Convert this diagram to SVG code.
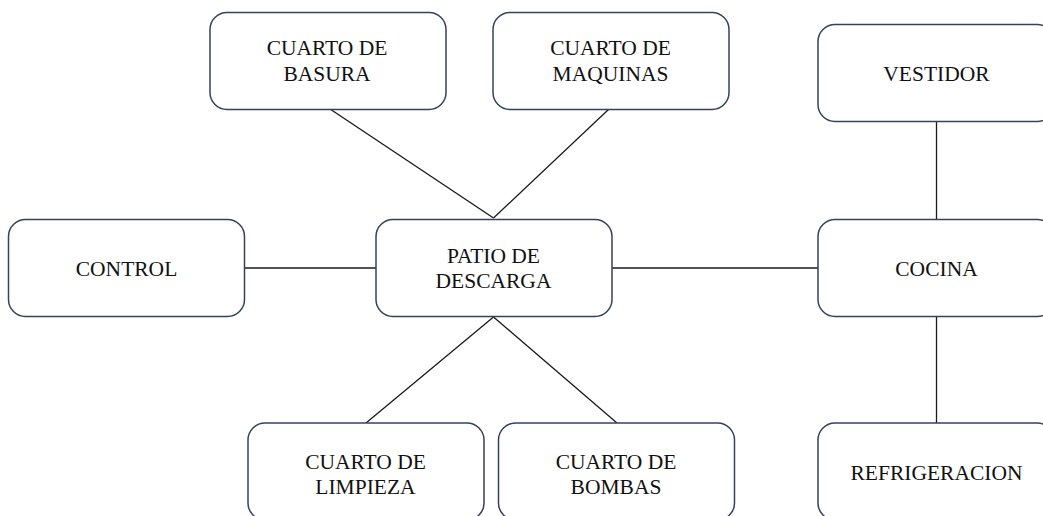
<svg xmlns="http://www.w3.org/2000/svg" width="1043" height="516" viewBox="0 0 1043 516">
<defs>
<rect id="r" width="236" height="97" rx="17" fill="#ffffff" stroke="#34415f" stroke-width="1.5"/>
</defs>
<rect width="1043" height="516" fill="#ffffff"/>
<g id="connectors" stroke="#1a1a1a" stroke-width="1.3" fill="none">
<line x1="330" y1="109" x2="493.5" y2="218"/>
<line x1="609" y1="109" x2="493.5" y2="218"/>
<line x1="493.5" y1="317" x2="366" y2="423"/>
<line x1="493.5" y1="317" x2="617" y2="423"/>
<line x1="244" y1="268" x2="376" y2="268"/>
<line x1="611" y1="268" x2="818" y2="268"/>
<line x1="936.5" y1="121" x2="936.5" y2="219"/>
<line x1="936.5" y1="317" x2="936.5" y2="423"/>
</g>
<g id="basura">
<use href="#r" x="210" y="12.5"/>
<text x="327" y="55" font-family="Liberation Serif" font-size="21.5" fill="#111" text-anchor="middle">CUARTO DE</text>
<text x="327" y="81" font-family="Liberation Serif" font-size="21.5" fill="#111" text-anchor="middle">BASURA</text>
</g>
<g id="maquinas">
<use href="#r" x="493" y="12.5"/>
<text x="610.5" y="55" font-family="Liberation Serif" font-size="21.5" fill="#111" text-anchor="middle">CUARTO DE</text>
<text x="610.5" y="81" font-family="Liberation Serif" font-size="21.5" fill="#111" text-anchor="middle">MAQUINAS</text>
</g>
<g id="vestidor">
<use href="#r" x="818" y="24.5"/>
<text x="936.5" y="80.5" font-family="Liberation Serif" font-size="21.5" fill="#111" text-anchor="middle">VESTIDOR</text>
</g>
<g id="control">
<use href="#r" x="8.5" y="219.5"/>
<text x="126.5" y="275.5" font-family="Liberation Serif" font-size="21.5" fill="#111" text-anchor="middle">CONTROL</text>
</g>
<g id="patio">
<use href="#r" x="376" y="219.5"/>
<text x="493.5" y="262.5" font-family="Liberation Serif" font-size="21.5" fill="#111" text-anchor="middle">PATIO DE</text>
<text x="493.5" y="287.5" font-family="Liberation Serif" font-size="21.5" fill="#111" text-anchor="middle">DESCARGA</text>
</g>
<g id="cocina">
<use href="#r" x="818" y="219.5"/>
<text x="936.5" y="275.5" font-family="Liberation Serif" font-size="21.5" fill="#111" text-anchor="middle">COCINA</text>
</g>
<g id="limpieza">
<use href="#r" x="248" y="423"/>
<text x="365.5" y="468.5" font-family="Liberation Serif" font-size="21.5" fill="#111" text-anchor="middle">CUARTO DE</text>
<text x="365.5" y="493.5" font-family="Liberation Serif" font-size="21.5" fill="#111" text-anchor="middle">LIMPIEZA</text>
</g>
<g id="bombas">
<use href="#r" x="498.5" y="423"/>
<text x="616" y="468.5" font-family="Liberation Serif" font-size="21.5" fill="#111" text-anchor="middle">CUARTO DE</text>
<text x="616" y="493.5" font-family="Liberation Serif" font-size="21.5" fill="#111" text-anchor="middle">BOMBAS</text>
</g>
<g id="refrigeracion">
<use href="#r" x="818" y="423"/>
<text x="936.5" y="480" font-family="Liberation Serif" font-size="21.5" fill="#111" text-anchor="middle">REFRIGERACION</text>
</g>
</svg>
